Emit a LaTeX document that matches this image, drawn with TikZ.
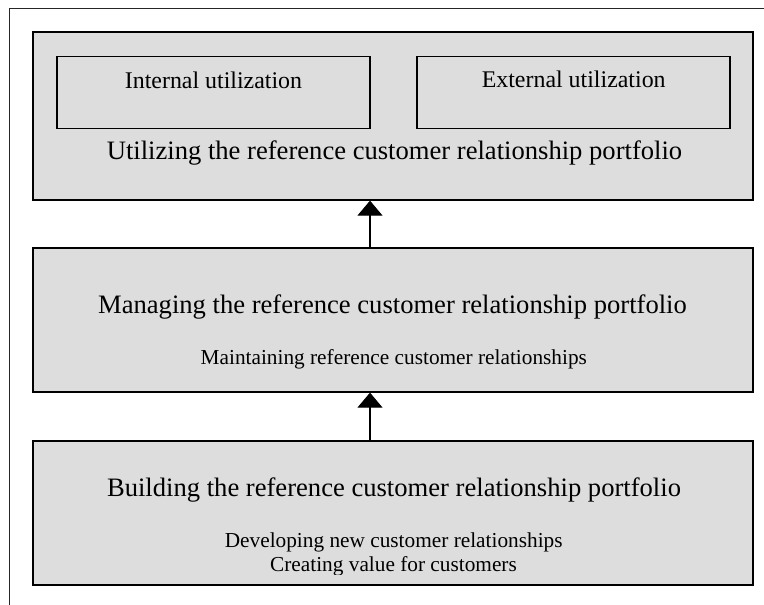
\documentclass[tikz,border=0pt]{standalone}
\usepackage{fontspec}
\setmainfont{Liberation Serif}
\usetikzlibrary{arrows.meta}

\definecolor{boxfill}{RGB}{221,221,221}

\tikzset{
  stage/.style={draw=black, line width=1.3pt, fill=boxfill, inner sep=0pt,
                minimum width=720pt, minimum height=144pt},
  usebox/.style={draw=black, line width=1.3pt, inner sep=0pt,
                 minimum width=313pt, minimum height=72pt},
  title/.style={anchor=base, inner sep=0pt, font=\fontsize{26.6}{30}\selectfont},
  subtitle/.style={anchor=base, inner sep=0pt, font=\fontsize{21.3}{25}\selectfont},
  boxlabel/.style={anchor=base, inner sep=0pt, font=\fontsize{23.9}{28}\selectfont},
  uparrow/.style={line width=1.1pt, -{Triangle[width=25pt,length=15pt]}}
}

\begin{document}
\begin{tikzpicture}[x=1pt, y=-1pt]
\useasboundingbox (0,0) rectangle (764,605);

% frame around the figure (only its top and left sides fall on the page)
\draw[line width=1pt, black!85] (9.5,605) |- (764,8);

% the three stages
\node[stage, minimum height=168pt] (use) at (393,116) {};
\node[stage] (manage) at (393,320) {};
\node[stage] (build) at (393,513) {};

% utilization sub-boxes
\node[usebox] (internal) at (213.5,92.5) {};
\node[usebox] (external) at (573.5,92.5) {};
\node[boxlabel] (internaltxt) at (213.5,88.5) {Internal utilization};
\node[boxlabel] (externaltxt) at (573.7,87.5) {External utilization};

% stage texts
\node[title] (usetxt) at (394.5,159.3) {Utilizing the reference customer relationship portfolio};
\node[title] (managetxt) at (392.5,313.3) {Managing the reference customer relationship portfolio};
\node[subtitle] (maintaintxt) at (393.8,364.3) {Maintaining reference customer relationships};
\node[title] (buildtxt) at (394,496.5) {Building the reference customer relationship portfolio};
\node[subtitle] (developtxt) at (393.7,547.3) {Developing new customer relationships};
\begin{scope}
  \clip (0,0) rectangle (764,574);
  \node[subtitle] (valuetxt) at (393.5,571.5) {Creating value for customers};
\end{scope}

% arrows between stages
\coordinate (ax) at (370,0);
\draw[uparrow] (manage.north -| ax) -- (use.south -| ax);
\draw[uparrow] (build.north -| ax) -- (manage.south -| ax);
\end{tikzpicture}
\end{document}
